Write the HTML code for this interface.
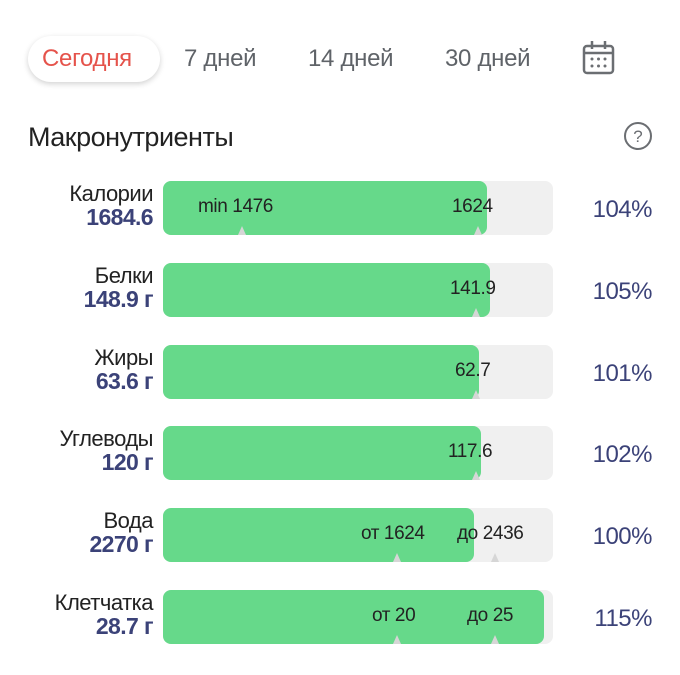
<!DOCTYPE html>
<html><head><meta charset="utf-8"><style>
body{margin:0;width:680px;height:675px;background:#fff;position:relative;overflow:hidden;font-family:"Liberation Sans","DejaVu Sans",sans-serif}
.a{position:absolute;white-space:nowrap}
.tab{font-size:24px;color:#5f6368;top:45px;letter-spacing:-0.3px}
.name{font-size:22px;color:#222;right:527px;text-align:right;letter-spacing:-0.5px}
.val{font-size:23px;color:#3b4278;right:527px;text-align:right;letter-spacing:-0.6px;font-weight:bold}
.track{position:absolute;left:163px;width:390px;height:54px;background:#f0f0f0;border-radius:8px}
.fill{position:absolute;left:0;top:0;height:54px;background:#66d98a;border-radius:8px}
.bt{position:absolute;font-size:19px;color:#222;top:15px;letter-spacing:-0.4px}
.tri{position:absolute;bottom:0;width:0;height:0;border-left:4px solid transparent;border-right:4px solid transparent;border-bottom:9px solid #d6d6d6}
.pct{font-size:24px;color:#3b4278;right:28px;letter-spacing:-0.5px}
</style></head><body>
<div class="a" style="left:28px;top:36px;width:132px;height:46px;border-radius:23px;box-shadow:0 2px 6px rgba(0,0,0,0.18);background:#fff"></div>
<div class="a tab" style="left:42px;color:#e5534b">Сегодня</div>
<div class="a tab" style="left:184px">7 дней</div>
<div class="a tab" style="left:308px">14 дней</div>
<div class="a tab" style="left:445px">30 дней</div>
<svg class="a" style="left:582px;top:40px" width="34" height="36" viewBox="0 0 34 36"><rect x="2" y="6" width="29" height="27" rx="3" fill="none" stroke="#6b6e72" stroke-width="2.5"/><line x1="2" y1="13" x2="31" y2="13" stroke="#6b6e72" stroke-width="2.5"/><line x1="10" y1="1" x2="10" y2="9" stroke="#6b6e72" stroke-width="2.5"/><line x1="23" y1="1" x2="23" y2="9" stroke="#6b6e72" stroke-width="2.5"/><g fill="#6b6e72"><circle cx="10" cy="19" r="1.5"/><circle cx="16.5" cy="19" r="1.5"/><circle cx="23" cy="19" r="1.5"/><circle cx="10" cy="26" r="1.5"/><circle cx="16.5" cy="26" r="1.5"/><circle cx="23" cy="26" r="1.5"/></g></svg>
<div class="a" style="left:28px;top:122px;font-size:27px;color:#222;letter-spacing:-0.5px">Макронутриенты</div>
<svg class="a" style="left:623px;top:121px" width="30" height="30"><circle cx="15" cy="15" r="13" fill="none" stroke="#6b6e72" stroke-width="2"/><text x="15" y="21" text-anchor="middle" font-size="17" fill="#6b6e72" font-family="Liberation Sans">?</text></svg>

<div class="a name" style="top:181px">Калории</div><div class="a val" style="top:204px">1684.6</div>
<div class="track" style="top:181px"><div class="fill" style="width:324px"></div><div class="bt" style="left:35px">min 1476</div><div class="bt" style="left:289px">1624</div><div class="tri" style="left:75px"></div><div class="tri" style="left:311px"></div></div>
<div class="a pct" style="top:196px">104%</div>

<div class="a name" style="top:263px">Белки</div><div class="a val" style="top:286px">148.9 г</div>
<div class="track" style="top:263px"><div class="fill" style="width:327px"></div><div class="bt" style="left:287px">141.9</div><div class="tri" style="left:309px"></div></div>
<div class="a pct" style="top:278px">105%</div>

<div class="a name" style="top:345px">Жиры</div><div class="a val" style="top:368px">63.6 г</div>
<div class="track" style="top:345px"><div class="fill" style="width:316px"></div><div class="bt" style="left:292px">62.7</div><div class="tri" style="left:309px"></div></div>
<div class="a pct" style="top:360px">101%</div>

<div class="a name" style="top:426px">Углеводы</div><div class="a val" style="top:449px">120 г</div>
<div class="track" style="top:426px"><div class="fill" style="width:318px"></div><div class="bt" style="left:285px">117.6</div><div class="tri" style="left:309px"></div></div>
<div class="a pct" style="top:441px">102%</div>

<div class="a name" style="top:508px">Вода</div><div class="a val" style="top:531px">2270 г</div>
<div class="track" style="top:508px"><div class="fill" style="width:311px"></div><div class="bt" style="left:198px">от 1624</div><div class="bt" style="left:294px">до 2436</div><div class="tri" style="left:230px"></div><div class="tri" style="left:328px"></div></div>
<div class="a pct" style="top:523px">100%</div>

<div class="a name" style="top:590px">Клетчатка</div><div class="a val" style="top:613px">28.7 г</div>
<div class="track" style="top:590px"><div class="fill" style="width:381px"></div><div class="bt" style="left:209px">от 20</div><div class="bt" style="left:304px">до 25</div><div class="tri" style="left:230px"></div><div class="tri" style="left:328px"></div></div>
<div class="a pct" style="top:605px">115%</div>
</body></html>
